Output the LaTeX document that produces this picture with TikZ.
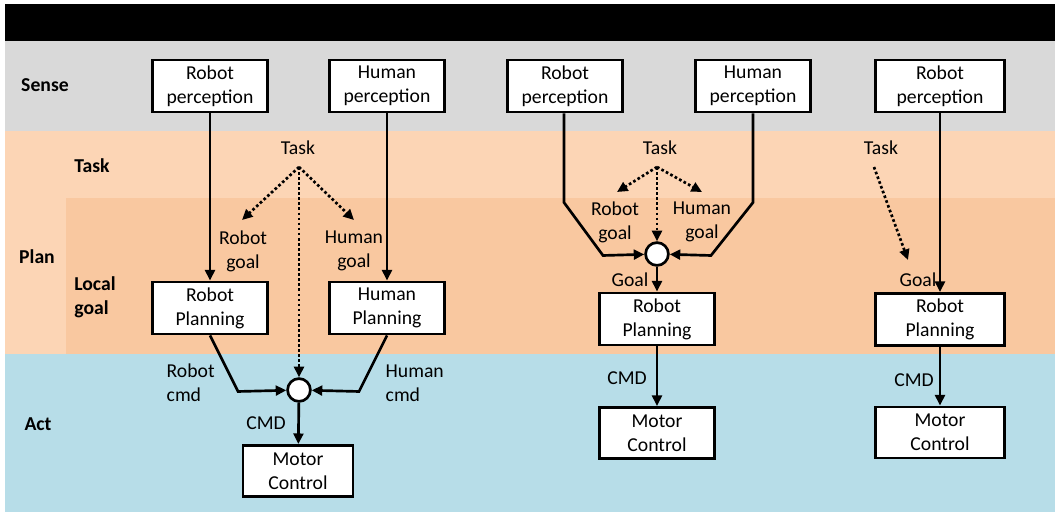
\documentclass[tikz,border=0pt]{standalone}
\usepackage{fontspec}
\setmainfont{Carlito}
\usetikzlibrary{arrows.meta, positioning}
\definecolor{senseg}{HTML}{D9D9D9}
\definecolor{taskc}{HTML}{FCD5B5}
\definecolor{localc}{HTML}{F9C8A0}
\definecolor{actc}{HTML}{B7DDE8}

\begin{document}
\begin{tikzpicture}[x=0.025cm,y=-0.025cm,
		blk/.style={draw,line width=2.1pt,fill=white,align=center,inner sep=0pt,minimum width=2.875cm,minimum height=1.3cm,font=\fontsize{14}{17}\selectfont},
		lbl/.style={align=center,inner sep=1pt,font=\fontsize{14}{17}\selectfont},
		hdr/.style={align=left,inner sep=0pt,font=\fontsize{14}{17}\selectfont\bfseries},
		flow/.style={line width=1.9pt,-{Triangle[length=7.5pt,width=7pt]}},
		hint/.style={line width=1.9pt,dash pattern=on 1.9pt off 1.7pt,-{Triangle[length=7.5pt,width=7pt]}},
		junc/.style={circle,draw,line width=1.9pt,fill=white,minimum size=0.57cm,inner sep=0pt}]
		\useasboundingbox (0,0) rectangle (1055,512);
		% bands
		\fill[black] (5,4) rectangle (1055,41);
		\fill[senseg] (5,41) rectangle (1055,131);
		\fill[taskc] (5,131) rectangle (1055,354);
		\fill[localc] (66,198) rectangle (1055,354);
		\fill[actc] (5,354) rectangle (1055,512);
		\node[hdr] (sense) at (45,85) {Sense};
		\node[hdr] (taskh) at (92,166) {Task};
		\node[hdr] (plan) at (37,257) {Plan};
		\node[hdr] (local) at (95,297) {Local\\goal};
		\node[hdr] (act) at (38,424) {Act};
		% left: two planners, command fusion
		\node[blk] (rp1) at (210,86) {Robot\\perception};
		\node[blk] (hp1) at (387,86) {Human\\perception};
		\node[blk] (rpl1) at (210,308) {Robot\\Planning};
		\node[blk] (hpl1) at (387,308) {Human\\Planning};
		\node[junc] (j1) at (299,390) {};
		\node[blk,minimum width=2.75cm,minimum height=1.275cm] (mc1) at (298,471) {Motor\\Control};
		\node[lbl] (task1) at (298,148) {Task};
		\coordinate (t1) at (299,167);
		\coordinate (rg1) at (242,220);
		\coordinate (hg1) at (354,220);
		\node[lbl] (rgl1) at (243,251) {Robot\\goal};
		\node[lbl] (hgl1) at (354,251) {Human\\goal};
		\node[lbl,align=left,anchor=west] (rc1) at (165,383) {Robot\\cmd};
		\node[lbl,align=left,anchor=west] (hc1) at (384,383) {Human\\cmd};
		\node[lbl] (cmd1) at (266,423) {CMD};
		\draw[flow] (rp1) -- (rpl1);
		\draw[flow] (hp1) -- (hpl1);
		\draw[hint] (t1) -- (rg1);
		\draw[hint] (t1) -- (hg1);
		\draw[hint] (t1) -- (j1);
		\draw[flow] (rpl1.south) -- ++(28,56) -- (j1);
		\draw[flow] (hpl1.south) -- ++(-28,56) -- (j1);
		\draw[flow] (j1) -- (mc1);
		% middle: goal fusion
		\node[blk] (rp2) at (565,86) {Robot\\perception};
		\node[blk] (hp2) at (753,86) {Human\\perception};
		\node[junc] (j2) at (657,254) {};
		\node[blk] (rpl2) at (657,319) {Robot\\Planning};
		\node[blk,minimum height=1.275cm] (mc2) at (657,433) {Motor\\Control};
		\node[lbl] (task2) at (660,148) {Task};
		\coordinate (t2) at (657,167);
		\coordinate (rg2) at (617,192);
		\coordinate (hg2) at (702,192);
		\node[lbl] (rgl2) at (615,222) {Robot\\goal};
		\node[lbl] (hgl2) at (702,222) {Human\\goal};
		\node[lbl] (goal2) at (630,280) {Goal};
		\node[lbl] (cmd2) at (627,378) {CMD};
		\draw[hint] (t2) -- (rg2);
		\draw[hint] (t2) -- (hg2);
		\draw[hint] (t2) -- (j2);
		\draw[flow] (rp2.south -| 564,0) -- ++(0,89) -- ++(39,53) -- (j2);
		\draw[flow] (hp2.south) -- ++(0,89) -- ++(-42,53) -- (j2);
		\draw[flow] (j2) -- (rpl2);
		\draw[flow] (rpl2) -- (mc2);
		% right: robot only
		\node[blk,minimum width=3.225cm] (rp3) at (940,86) {Robot\\perception};
		\node[blk,minimum width=3.225cm] (rpl3) at (940,319.5) {Robot\\Planning};
		\node[blk,minimum width=3.225cm,minimum height=1.275cm] (mc3) at (940,432.5) {Motor\\Control};
		\node[lbl] (task3) at (881,148) {Task};
		\coordinate (t3) at (874,167);
		\coordinate (g3) at (908,260);
		\node[lbl] (goal3) at (918,280) {Goal};
		\node[lbl] (cmd3) at (914,380) {CMD};
		\draw[hint] (t3) -- (g3);
		\draw[flow] (rp3) -- (rpl3);
		\draw[flow] (rpl3) -- (mc3);
	\end{tikzpicture}
\end{document}
